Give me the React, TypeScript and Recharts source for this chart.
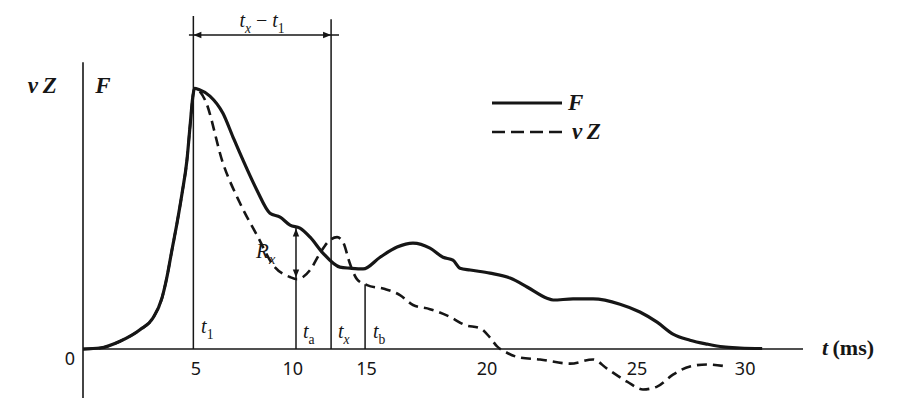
import React from 'react';
import { LineChart, Line, XAxis, YAxis, ReferenceLine, ReferenceDot, Legend } from 'recharts';

// ---- data (drawing time units, arbitrary amplitude units) ----
const fTime = [0, 0.77, 1.68, 2.58, 3.17, 3.58, 3.81, 4.03, 4.26, 4.49, 4.71, 4.85, 4.98, 5.05, 5.25, 5.75, 6.34, 6.8, 7.25, 7.88, 8.47, 8.93, 9.38, 9.83, 10.29, 10.87, 11.64, 12.1, 12.69, 13.46, 14.23, 14.95, 15.72, 16.31, 16.76, 17.08, 17.54, 18.44, 19.35, 20.12, 21.02, 21.3, 22.2, 23.11, 24.33, 25.23, 26.01, 26.73, 27.5, 28.27, 29.0, 29.77, 30.77];
const fValue = [0, 0.4, 3.0, 7.4, 11.9, 19.6, 27.9, 38.0, 48.3, 59.8, 72.5, 85.5, 97.0, 100, 99.5, 97.0, 90.4, 81.2, 72.4, 60.9, 52.1, 50.6, 47.5, 46.4, 42.9, 36.8, 31.4, 31.0, 30.7, 35.2, 39.1, 40.6, 38.7, 35.2, 34.1, 31.0, 30.3, 29.1, 27.2, 23.8, 19.5, 18.8, 19.2, 19.2, 17.2, 14.2, 10.3, 5.7, 3.4, 1.9, 0.8, 0.4, 0.2];

const vzTime = [0, 0.77, 1.68, 2.58, 3.17, 3.58, 3.81, 4.03, 4.26, 4.49, 4.71, 4.85, 4.98, 5.05, 5.25, 5.53, 6.34, 7.11, 7.93, 8.61, 9.38, 9.7, 10.29, 10.74, 11.19, 11.51, 11.78, 12.1, 12.41, 12.87, 13.68, 14.36, 14.95, 15.72, 16.63, 17.31, 17.99, 18.44, 18.76, 19.12, 19.8, 20.71, 22.07, 23.11, 23.74, 24.65, 25.37, 26.01, 26.73, 27.5, 28.27, 29.18];
const vzValue = [0, 0.4, 3.0, 7.4, 11.9, 19.6, 27.9, 38.0, 48.3, 59.8, 72.5, 85.5, 97.0, 100, 99.2, 95.5, 71.3, 56.0, 42.9, 32.2, 27.6, 26.8, 30.3, 36.8, 41.8, 42.9, 41.0, 32.6, 26.8, 24.5, 23.0, 20.7, 16.9, 15.3, 12.3, 9.2, 8.0, 4.4, 1.0, -1.0, -3.3, -4.0, -5.6, -4.0, -7.5, -12.5, -15.5, -14.4, -9.8, -6.7, -5.9, -6.7];

const xTickPositions = [5.12, 9.5, 12.85, 18.3, 25.1, 30.0];
const xTickLabels = ['5', '10', '15', '20', '25', '30'];

// marker times and levels
const t1 = 5.0;
const ta = 9.65;
const tx = 11.24;
const tb = 12.78;
const rxTop = 46.6;
const rxBottom = 27.0;
const tbTop = 24.8;
const t1Top = 127.7;
const txTop = 126.5;
const dimLevel = 120.4;
const dimStart = 4.8;
const dimEnd = 11.6;
const yAxisTop = 110;
const yAxisBottom = -18.8;

const X_DOMAIN: [number, number] = [0, 32.62];
const Y_DOMAIN: [number, number] = [-20, 130];

const fData = fTime.map((t, i) => ({ t, v: fValue[i] }));
const vzData = vzTime.map((t, i) => ({ t, v: vzValue[i] }));

const INK = '#161616';
const SERIF = '"Liberation Serif", "DejaVu Serif", serif';
const SANS = '"Noto Sans", "DejaVu Sans", sans-serif';

type Part = { t: string; sub?: boolean; italic?: boolean };

function MathText({ x, y, parts, size = 19, anchor = 'start', weight = 400 }: { x: number; y: number; parts: Part[]; size?: number; anchor?: string; weight?: number }) {
  let prevSub = false;
  return (
    <text x={x} y={y} textAnchor={anchor as any} fontFamily={SERIF} fontSize={size} fill={INK} fontWeight={weight}>
      {parts.map((p, i) => {
        const sub = !!p.sub;
        let dy = 0;
        if (sub && !prevSub) dy = size * 0.28;
        if (!sub && prevSub) dy = -size * 0.28;
        prevSub = sub;
        return (
          <tspan key={i} dy={dy} fontStyle={p.italic ? 'italic' : 'normal'} fontSize={sub ? size * 0.68 : size}>
            {p.t}
          </tspan>
        );
      })}
    </text>
  );
}

function Arrowhead({ cx, cy, dir }: { cx: number; cy: number; dir: 'up' | 'down' | 'left' | 'right' }) {
  const L = 8;
  const W = 3.2;
  let d = '';
  if (dir === 'up') d = `M${cx},${cy} L${cx - W},${cy + L} L${cx + W},${cy + L} Z`;
  if (dir === 'down') d = `M${cx},${cy} L${cx - W},${cy - L} L${cx + W},${cy - L} Z`;
  if (dir === 'left') d = `M${cx},${cy} L${cx + L},${cy - W} L${cx + L},${cy + W} Z`;
  if (dir === 'right') d = `M${cx},${cy} L${cx - L},${cy - W} L${cx - L},${cy + W} Z`;
  return <path d={d} fill={INK} stroke="none" />;
}

function annot(key: string, x: number, y: number, render: (cx: number, cy: number) => React.ReactElement) {
  return (
    <ReferenceDot
      key={key}
      x={x}
      y={y}
      r={0}
      ifOverflow="visible"
      isFront
      shape={(p: any) => render(p.cx, p.cy)}
    />
  );
}

function LegendBox() {
  const items = [
    { name: 'F', dash: undefined as string | undefined, parts: [{ t: 'F', italic: true }] },
    { name: 'v Z', dash: '13 6', parts: [{ t: 'v', italic: true }, { t: '\u2009Z', italic: true }] },
  ];
  return (
    <svg width={150} height={60} style={{ overflow: 'visible' }}>
      {items.map((it, i) => (
        <g key={it.name}>
          <line x1={2} x2={72} y1={13 + i * 29} y2={13 + i * 29} stroke={INK} strokeWidth={i === 0 ? 3 : 2.6} strokeDasharray={it.dash} />
          <MathText x={i === 0 ? 78 : 82} y={20 + i * 29} parts={it.parts} size={23} weight={700} />
        </g>
      ))}
    </svg>
  );
}

export default function App() {
  return (
    <div style={{ position: 'absolute', left: 0, top: 0, width: 898, height: 413, background: '#fff' }}>
      <LineChart width={898} height={413} margin={{ top: 10, right: 95, bottom: 11.8, left: 83 }}>
        <XAxis type="number" dataKey="t" domain={X_DOMAIN} allowDataOverflow hide />
        <YAxis type="number" dataKey="v" domain={Y_DOMAIN} allowDataOverflow hide />

        {/* axes */}
        <ReferenceLine segment={[{ x: 0, y: yAxisBottom }, { x: 0, y: yAxisTop }]} stroke={INK} strokeWidth={1.6} ifOverflow="visible" />
        <ReferenceLine y={0} stroke={INK} strokeWidth={1.6} ifOverflow="visible" />

        {/* marker verticals */}
        <ReferenceLine segment={[{ x: t1, y: 0 }, { x: t1, y: t1Top }]} stroke={INK} strokeWidth={1.5} ifOverflow="visible" />
        <ReferenceLine segment={[{ x: tx, y: 0 }, { x: tx, y: txTop }]} stroke={INK} strokeWidth={1.5} ifOverflow="visible" />
        <ReferenceLine segment={[{ x: ta, y: 0 }, { x: ta, y: rxTop }]} stroke={INK} strokeWidth={1.5} ifOverflow="visible" />
        <ReferenceLine segment={[{ x: tb, y: 0 }, { x: tb, y: tbTop }]} stroke={INK} strokeWidth={1.5} ifOverflow="visible" />
        <ReferenceLine segment={[{ x: dimStart, y: dimLevel }, { x: dimEnd, y: dimLevel }]} stroke={INK} strokeWidth={1.5} ifOverflow="visible" />

        <Line data={vzData} dataKey="v" type="monotone" stroke={INK} strokeWidth={2.6} strokeDasharray="10 6" dot={false} activeDot={false} isAnimationActive={false} name="v Z" />
        <Line data={fData} dataKey="v" type="monotone" stroke={INK} strokeWidth={3.2} dot={false} activeDot={false} isAnimationActive={false} name="F" />

        {/* arrowheads */}
        {annot('aL', t1, dimLevel, (cx, cy) => <Arrowhead cx={cx} cy={cy} dir="left" />)}
        {annot('aR', tx, dimLevel, (cx, cy) => <Arrowhead cx={cx} cy={cy} dir="right" />)}
        {annot('rU', ta, rxTop, (cx, cy) => <Arrowhead cx={cx} cy={cy + 1} dir="up" />)}
        {annot('rD', ta, rxBottom, (cx, cy) => <Arrowhead cx={cx} cy={cy - 1} dir="down" />)}

        {/* x tick labels */}
        {xTickPositions.map((p, i) =>
          annot('tick' + i, p, -10, (cx, cy) => (
            <text x={cx} y={cy} textAnchor="middle" fontFamily={SANS} fontSize={18} fill={INK}>{xTickLabels[i]}</text>
          ))
        )}
        {annot('zero', -0.59, -6, (cx, cy) => (
          <text x={cx} y={cy} textAnchor="middle" fontFamily={SANS} fontSize={18} fill={INK}>0</text>
        ))}
        {annot('tms', 33.48, -2.3, (cx, cy) => (
          <MathText x={cx} y={cy} size={22} parts={[{ t: 't', italic: true }, { t: '\u2009(ms)' }]} weight={600} />
        ))}

        {/* axis titles */}
        {annot('vzLab', -2.5, 98.2, (cx, cy) => (
          <MathText x={cx} y={cy} size={23} weight={700} parts={[{ t: 'v', italic: true }, { t: '\u2009Z', italic: true }]} />
        ))}
        {annot('fLab', 0.55, 98.2, (cx, cy) => (
          <MathText x={cx} y={cy} size={23} weight={700} parts={[{ t: 'F', italic: true }]} />
        ))}

        {/* annotations */}
        {annot('dimLab', 8.11, 123.5, (cx, cy) => (
          <MathText x={cx} y={cy} anchor="middle" size={20} parts={[{ t: 't', italic: true }, { t: 'x', sub: true, italic: true }, { t: ' \u2212 ' }, { t: 't', italic: true }, { t: '1', sub: true }]} />
        ))}
        {annot('t1Lab', 5.35, 6.1, (cx, cy) => (
          <MathText x={cx} y={cy} size={20} parts={[{ t: 't', italic: true }, { t: '1', sub: true }]} />
        ))}
        {annot('taLab', 9.97, 4.2, (cx, cy) => (
          <MathText x={cx} y={cy} size={20} parts={[{ t: 't', italic: true }, { t: 'a', sub: true }]} />
        ))}
        {annot('txLab', 11.55, 4.2, (cx, cy) => (
          <MathText x={cx} y={cy} size={20} parts={[{ t: 't', italic: true }, { t: 'x', sub: true, italic: true }]} />
        ))}
        {annot('tbLab', 13.14, 4.2, (cx, cy) => (
          <MathText x={cx} y={cy} size={20} parts={[{ t: 't', italic: true }, { t: 'b', sub: true }]} />
        ))}
        {annot('rxLab', 7.84, 34.9, (cx, cy) => (
          <MathText x={cx} y={cy} size={21} parts={[{ t: 'R', italic: true }, { t: 'x', sub: true, italic: true }]} />
        ))}

        <Legend
          layout="horizontal"
          verticalAlign="middle"
          align="center"
          content={() => <LegendBox />}
          wrapperStyle={{ position: 'absolute', left: 490, top: 90, width: 150, height: 60 }}
        />
      </LineChart>
    </div>
  );
}
